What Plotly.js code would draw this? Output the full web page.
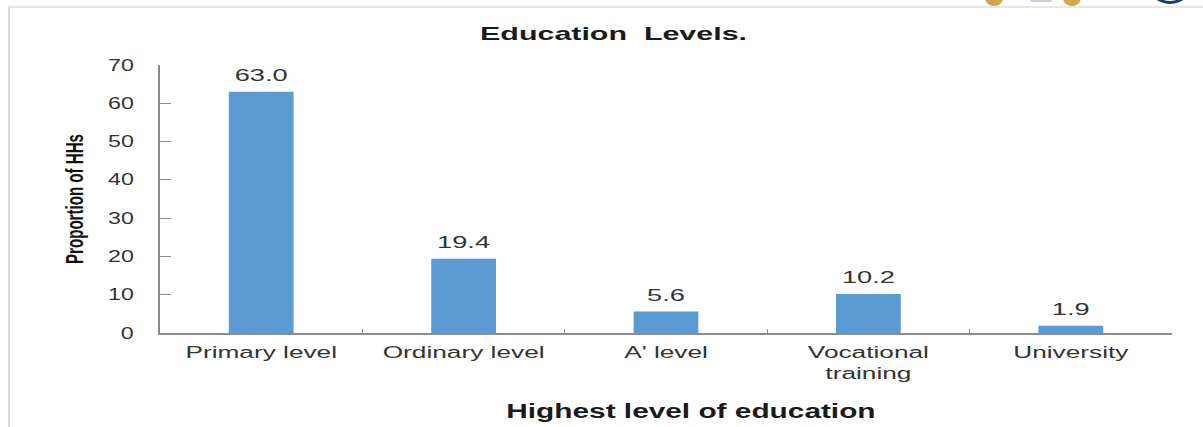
<!DOCTYPE html>
<html>
<head>
<meta charset="utf-8">
<script src="https://cdn.plot.ly/plotly-3.0.1.min.js"></script>
<style>
html,body{margin:0;padding:0;background:#fff;overflow:hidden;}
#frame{position:absolute;left:8px;top:6px;width:1195px;height:421px;border-left:2px solid #d9d9d9;border-top:2px solid #e6e6e6;pointer-events:none;}
#chart{width:1203px;height:427px;}
.logo{position:absolute;border-radius:50%;}
</style>
</head>
<body>
<div id="chart"></div>
<div id="frame"></div>
<div class="logo" style="left:985px;top:-10px;width:18px;height:16px;background:#c9a94a;"></div>
<div class="logo" style="left:1030px;top:-3px;width:22px;height:5px;background:#c8cde0;border-radius:2px;"></div>
<div class="logo" style="left:1063px;top:-10px;width:18px;height:16px;background:#c9a94a;"></div>
<div class="logo" style="left:1147px;top:-40px;width:46px;height:44px;border:3px solid #1f3a6e;box-sizing:border-box;"></div>
<script>
const categories = ["Primary level", "Ordinary level", "A' level", "Vocational<br>training", "University"];
const values = [63.0, 19.4, 5.6, 10.2, 1.9];
const yTicks = [0, 10, 20, 30, 40, 50, 60, 70];
const chartTitle = 'Education  Levels.';
const xTitle = 'Highest level of education';
const yTitle = 'Proportion of HHs';

const FONT = 'Liberation Sans, Arial, sans-serif';

const trace = {
  type: 'bar',
  x: categories,
  y: values,
  width: 0.32,
  marker: {color: '#5B9BD5'},
  texttemplate: '%{y:.1f}',
  textposition: 'outside',
  cliponaxis: false,
  textfont: {family: FONT, size: 16, color: '#333333'},
  hoverinfo: 'skip'
};

const layout = {
  width: 1203,
  height: 427,
  margin: {l: 160, r: 31, t: 65, b: 94},
  paper_bgcolor: '#ffffff',
  plot_bgcolor: '#ffffff',
  showlegend: false,
  title: {
    text: '<b>' + chartTitle + '</b>',
    font: {family: FONT, size: 19, color: '#1a1a1a'},
    x: 0.51, xanchor: 'center', y: 0.922, yanchor: 'middle'
  },
  xaxis: {
    type: 'category',
    showline: true, linecolor: '#8c8c8c', linewidth: 1.5,
    ticks: 'inside', ticklen: 4, tickcolor: '#8c8c8c', tickson: 'boundaries',
    showgrid: false, zeroline: false,
    ticklabelstandoff: 4,
    tickfont: {family: FONT, size: 16, color: '#333333'}
  },
  yaxis: {
    range: [0, 70],
    tickvals: yTicks,
    showline: true, linecolor: '#8c8c8c', linewidth: 2,
    ticks: 'inside', ticklen: 11, tickcolor: '#8c8c8c',
    showgrid: false, zeroline: false,
    ticklabelstandoff: 21,
    tickfont: {family: FONT, size: 16, color: '#333333'},
    title: {
      text: '<b>' + yTitle + '</b>',
      font: {family: FONT, size: 23, color: '#111111'},
      standoff: 26
    }
  },
  annotations: [{
    text: '<b>' + xTitle + '</b>',
    xref: 'paper', yref: 'paper',
    x: 0.5247, y: -0.291, xanchor: 'center', yanchor: 'middle',
    showarrow: false,
    font: {family: FONT, size: 20, color: '#1a1a1a'}
  }]
};

function stretch(sel, f, fixedLen) {
  document.querySelectorAll(sel).forEach(t => {
    const lines = t.querySelectorAll('tspan.line');
    const targets = lines.length ? Array.from(lines) : [t];
    targets.forEach(el => {
      const L = el.getComputedTextLength();
      el.setAttribute('textLength', fixedLen ? fixedLen : L * f);
      el.setAttribute('lengthAdjust', 'spacingAndGlyphs');
    });
  });
}

Plotly.newPlot('chart', [trace], layout, {displayModeBar: false, staticPlot: true}).then(() => {
  stretch('.gtitle', 1.6);
  stretch('.annotation-text', 1.49);
  stretch('.xtick text', 1.64);
  stretch('.ytick text', 1.45);
  stretch('.ytitle', 0, 130);
  document.querySelectorAll('.trace.bars text').forEach(t => {
    const L = t.getComputedTextLength();
    t.setAttribute('textLength', L * 1.7);
    t.setAttribute('lengthAdjust', 'spacingAndGlyphs');
    t.setAttribute('dy', '-5');
  });
});
</script>
</body>
</html>
